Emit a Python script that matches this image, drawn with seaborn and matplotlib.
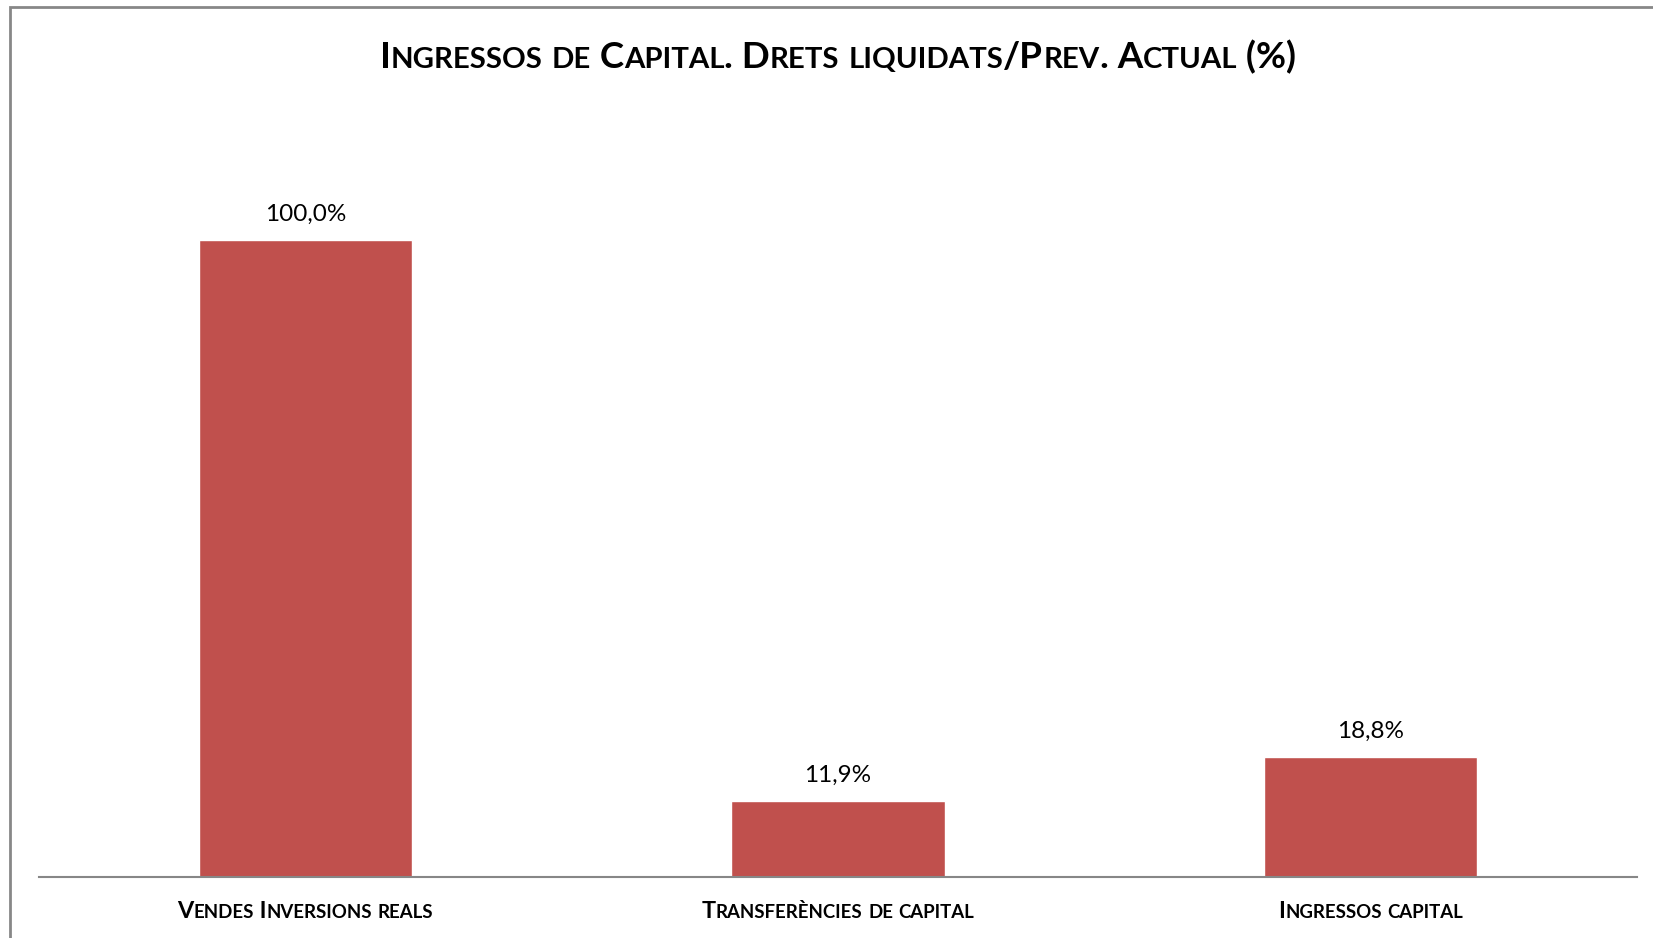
import matplotlib
matplotlib.use("Agg")
import matplotlib.pyplot as plt
import seaborn as sns
import pandas as pd
from matplotlib.offsetbox import TextArea, HPacker, AnnotationBbox
from matplotlib.patches import Rectangle

categories = ["Vendes Inversions reals", "Transferències de capital", "Ingressos capital"]
values = [100.0, 11.9, 18.8]
value_labels = ["100,0%", "11,9%", "18,8%"]
title = "Ingressos de Capital. Drets liquidats/Prev. Actual (%)"

BAR = "#C0504D"
GRAY = "#878787"

sns.set_style("white")
plt.rcParams["font.family"] = ["Lato", "DejaVu Sans"]


def small_caps(text, size, ratio=0.8, weight="bold"):
    # split into runs: capitals/other at full size, lowercase as smaller capitals
    runs = []
    for ch in text:
        small = ch.islower()
        if runs and runs[-1][1] == small:
            runs[-1][0] += ch
        else:
            runs.append([ch, small])
    kids = []
    for s, small in runs:
        kids.append(TextArea(s.upper(), textprops=dict(
            fontsize=size * ratio if small else size, fontweight=weight, color="black")))
    return HPacker(children=kids, align="baseline", pad=0, sep=0)


df = pd.DataFrame({"cat": categories, "val": values})

fig = plt.figure(figsize=(16.53, 9.38), dpi=100)
W, H = 1653, 938
ax = fig.add_axes([39 / W, (H - 877) / H, 1598 / W, (877 - 113) / H])

sns.barplot(data=df, x="cat", y="val", color=BAR, width=0.4, saturation=1, ax=ax)
ax.set_ylim(0, 120)
ax.set_xlim(-0.5, 2.5)
ax.set_xlabel("")
ax.set_ylabel("")
ax.set_yticks([])
ax.set_xticks(range(len(categories)))
ax.set_xticklabels([""] * len(categories))
ax.tick_params(axis="x", length=0)
for side in ["top", "right", "left"]:
    ax.spines[side].set_visible(False)
ax.spines["bottom"].set_color(GRAY)
ax.spines["bottom"].set_linewidth(1.5)

for i, (v, lab) in enumerate(zip(values, value_labels)):
    ax.annotate(lab, (i, v), xytext=(0, 11), textcoords="offset points",
                ha="center", va="bottom", fontsize=17.5, color="black")

for i, c in enumerate(categories):
    ab = AnnotationBbox(small_caps(c, 16.8), (i, 0), xycoords=("data", "axes fraction"),
                        xybox=(0, -17), boxcoords="offset points",
                        box_alignment=(0.5, 1), frameon=False, pad=0)
    ax.add_artist(ab)

tb = AnnotationBbox(small_caps(title, 26.5), (838 / W, 1 - 57 / H), xycoords="figure fraction",
                    box_alignment=(0.5, 0.5), frameon=False, pad=0)
fig.add_artist(tb)

fig.patches.append(Rectangle((9.5 / W, -0.1), 2, 1.1 - 7.5 / H, fill=False,
                             edgecolor=GRAY, linewidth=2, transform=fig.transFigure))

fig.savefig("out.png", dpi=100, facecolor="white")
